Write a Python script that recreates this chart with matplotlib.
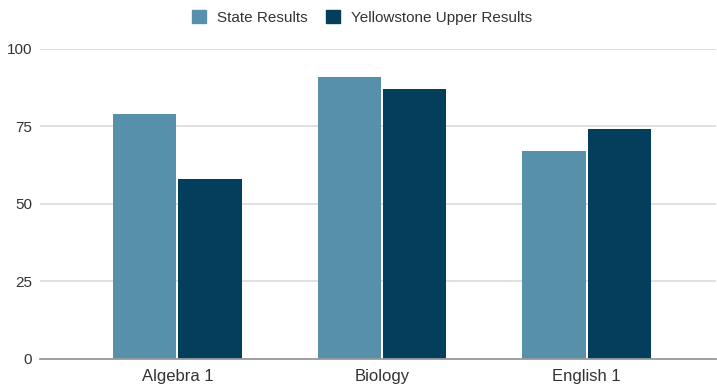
import numpy as np
import matplotlib.pyplot as plt
from matplotlib.patches import Patch

plt.rcParams['font.family'] = ['Liberation Sans', 'DejaVu Sans']

subjects = ["Algebra 1", "Biology", "English 1"]
state_results = [79, 91, 67]
yellowstone_results = [58, 87, 74]
series_names = ["State Results", "Yellowstone Upper Results"]

state_color = "#5790ab"
ys_color = "#033f5d"

fig = plt.figure(figsize=(7.17, 3.87), dpi=100)
ax = fig.add_axes([0.0558, 0.0724, 0.9428, 0.8016])

x = np.arange(len(subjects))
width = 0.31
gap = 0.005
ax.bar(x - width / 2 - gap, state_results, width, color=state_color, zorder=3)
ax.bar(x + width / 2 + gap, yellowstone_results, width, color=ys_color, zorder=3)

ax.set_xlim(-0.672, 2.633)
ax.set_ylim(0, 100)
ax.set_yticks([0, 25, 50, 75, 100])
ax.set_xticks(x)
ax.set_xticklabels(subjects)

# light horizontal grid, darker baseline
ax.yaxis.grid(True, color="#d9d9d9", linewidth=1.1, zorder=0)
ax.set_axisbelow(True)
for side in ["top", "right", "left"]:
    ax.spines[side].set_visible(False)
ax.spines["bottom"].set_color("#999999")
ax.spines["bottom"].set_linewidth(1.3)
ax.spines["bottom"].set_zorder(4)

ax.tick_params(axis="both", length=0, colors="#333333")
ax.tick_params(axis="y", pad=5.5, labelsize=11)
ax.tick_params(axis="x", pad=7, labelsize=12)

handles = [Patch(color=state_color), Patch(color=ys_color)]
fig.legend(handles, series_names, loc="upper center", bbox_to_anchor=(0.505, 1.01),
           ncol=2, frameon=False, fontsize=11, handlelength=0.92, handleheight=0.92,
           handletextpad=0.7, columnspacing=1.25, labelcolor="#333333")

fig.savefig("out.png", dpi=100)
